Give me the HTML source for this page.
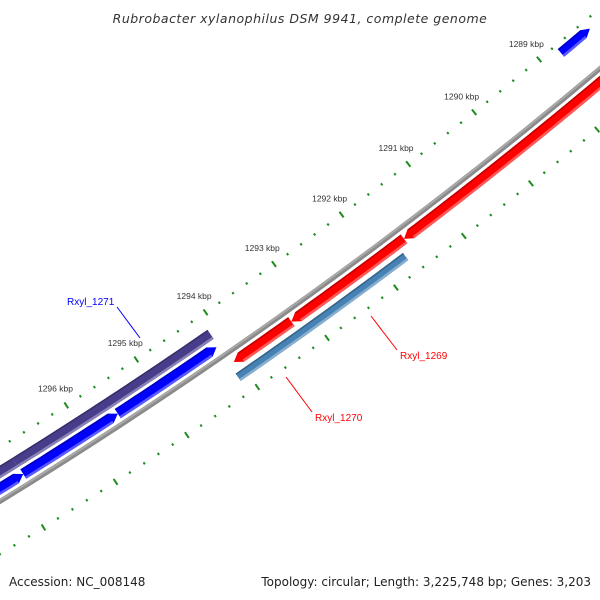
<!DOCTYPE html>
<html><head><meta charset="utf-8"><style>
html,body{margin:0;background:#fff;width:600px;height:600px;overflow:hidden}
svg{display:block;overflow:hidden}
text{font-family:"Liberation Sans",sans-serif}
</style></head><body>
<svg id="map" width="600" height="600" viewBox="0 0 600 600" xmlns="http://www.w3.org/2000/svg">
<rect width="600" height="600" fill="#fff"/>
<g id="ticks"></g>
<g id="backbone"></g>
<g id="features"></g>
<g id="labels"></g>
<text x="300" y="23" text-anchor="middle" font-size="12.5" font-style="italic" fill="#333" style="font-family:'DejaVu Sans',sans-serif" letter-spacing="0.5">Rubrobacter xylanophilus DSM 9941, complete genome</text>
<text x="9" y="586" font-size="12" fill="#222" style="font-family:'DejaVu Sans',sans-serif">Accession: NC_008148</text>
<text x="591" y="586" text-anchor="end" font-size="12" fill="#222" style="font-family:'DejaVu Sans',sans-serif">Topology: circular; Length: 3,225,748 bp; Genes: 3,203</text>
</svg>
<script>
// data (kbp positions)
const majorTicks = [1289,1290,1291,1292,1293,1294,1295,1296];
const geneNames = ["red-a","Rxyl_1269","red-c","Rxyl_1270","Rxyl_1271","purple-b","blue-a","blue-b","blue-c","blue-top"];
const geneStarts = [1293.23,1291.58,1287.00,1291.69,1294.10,1296.88,1294.13,1295.54,1296.87,1288.30];
const geneEnds   = [1294.06,1293.23,1291.58,1294.12,1296.88,1299.50,1295.54,1296.87,1299.50,1288.75];
const geneTrack  = ["rev","rev","rev","rev2","fwd2","fwd2","fwd","fwd","fwd","top"];
const geneColors = ["#ff0000","#ff0000","#ff0000","#4682b4","#483d8b","#483d8b","#0000ff","#0000ff","#0000ff","#0000ff"];
const geneTips   = ["end","end","end","none","none","none","start","start","start","start"];

const NS="http://www.w3.org/2000/svg";
const CX=-2598, CY=-3732, R0=4967;
const trackR={rev:R0+11,rev2:R0+26,fwd:R0-11,fwd2:R0-25,top:R0-37};
const trackW={rev:11,rev2:9,fwd:11,fwd2:11,top:10};
function ang(kbp){return (55.27+0.975*(kbp-1294))*Math.PI/180;}
function P(kbp,r){const a=ang(kbp);return [CX+r*Math.cos(a),CY+r*Math.sin(a)];}
function pts(arr){return arr.map(p=>p[0].toFixed(2)+","+p[1].toFixed(2)).join(" ");}
function mk(tag,attrs,parent){const e=document.createElementNS(NS,tag);for(const k in attrs)e.setAttribute(k,attrs[k]);parent.appendChild(e);return e;}
function arcPts(a,b,r){const out=[];const n=Math.max(2,Math.ceil(Math.abs(b-a)/0.1));for(let i=0;i<=n;i++)out.push(P(a+(b-a)*i/n,r));return out;}
function band(a,b,r1,r2){return arcPts(a,b,r1).concat(arcPts(b,a,r2));}

// backbone
const bb=document.getElementById('backbone');
const bbc=mk('circle',{cx:CX,cy:CY,r:R0,fill:'none',stroke:'#8a8a8a','stroke-width':5},bb);


const bbl=mk('circle',{cx:CX,cy:CY,r:R0-1.2,fill:'none',stroke:'#a8a8a8','stroke-width':2},bb);



// ticks
const tg=document.getElementById('ticks');
const rows=[R0-46,R0+45];
for(let i=0;i<=80;i++){
  const kr=Math.round((1286.4+i*0.2)*5)/5;
  const major=Math.abs(kr-Math.round(kr))<0.01;
  for(const r of rows){
    const half=major?3.5:1.2;
    const a=P(kr,r-half),b=P(kr,r+half);
    const l=mk('line',{x1:a[0],y1:a[1],x2:b[0],y2:b[1],stroke:'#1e8c1e','stroke-width':2},tg);
    
    
  }
}
majorTicks.forEach(k=>{
  const p=P(k,R0-66);
  const t=mk('text',{x:p[0],y:p[1]+3,'text-anchor':'middle','font-size':8.5,fill:'#333'},tg);
  t.textContent=k+" kbp";
  
  
});

// features
const fg=document.getElementById('features');
function shade(c,amt){const n=parseInt(c.slice(1),16);let r=n>>16,g=(n>>8)&255,b=n&255;
  const f=v=>Math.max(0,Math.min(255,Math.round(amt>0?v+(255-v)*amt:v*(1+amt))));
  return "#"+[f(r),f(g),f(b)].map(v=>v.toString(16).padStart(2,'0')).join('');}
geneNames.forEach((nm,i)=>{
  const s=geneStarts[i],e=geneEnds[i],r=trackR[geneTrack[i]],w=trackW[geneTrack[i]];
  const tip=geneTips[i],t=0.1;
  const ro=r-w/2,ri=r+w/2; // ro outer (toward map edge), ri inner
  const s2=tip==='start'?s+t:s, e2=tip==='end'?e-t:e;
  let poly=arcPts(s2,e2,ro);
  if(tip==='end') poly.push(P(e,r));
  poly=poly.concat(arcPts(e2,s2,ri));
  if(tip==='start') poly.push(P(s,r));
  const g=mk('g',{},fg);
  
  
  mk('polygon',{points:pts(poly),fill:geneColors[i]},g);
  mk('polygon',{points:pts(band(s2,e2,ri-2.5,ri)),fill:shade(geneColors[i],0.35)},g);
  mk('polygon',{points:pts(band(s2,e2,ro,ro+1.5)),fill:shade(geneColors[i],-0.25)},g);
});

// labels
const lg=document.getElementById('labels');
const labels=[
  {name:"Rxyl_1271",color:"#0000ff",x:67,y:305,l:[117,307,140,338]},
  {name:"Rxyl_1269",color:"#ff0000",x:400,y:359,l:[371,316,397,350]},
  {name:"Rxyl_1270",color:"#ff0000",x:315,y:421,l:[286,377,312,412]}
];
labels.forEach(o=>{
  const ln=mk('line',{x1:o.l[0],y1:o.l[1],x2:o.l[2],y2:o.l[3],stroke:o.color,'stroke-width':1},lg);
  
  
  const t=mk('text',{x:o.x,y:o.y,'font-size':10,fill:o.color},lg);
  t.textContent=o.name;
  
  
});
</script>
</body></html>
